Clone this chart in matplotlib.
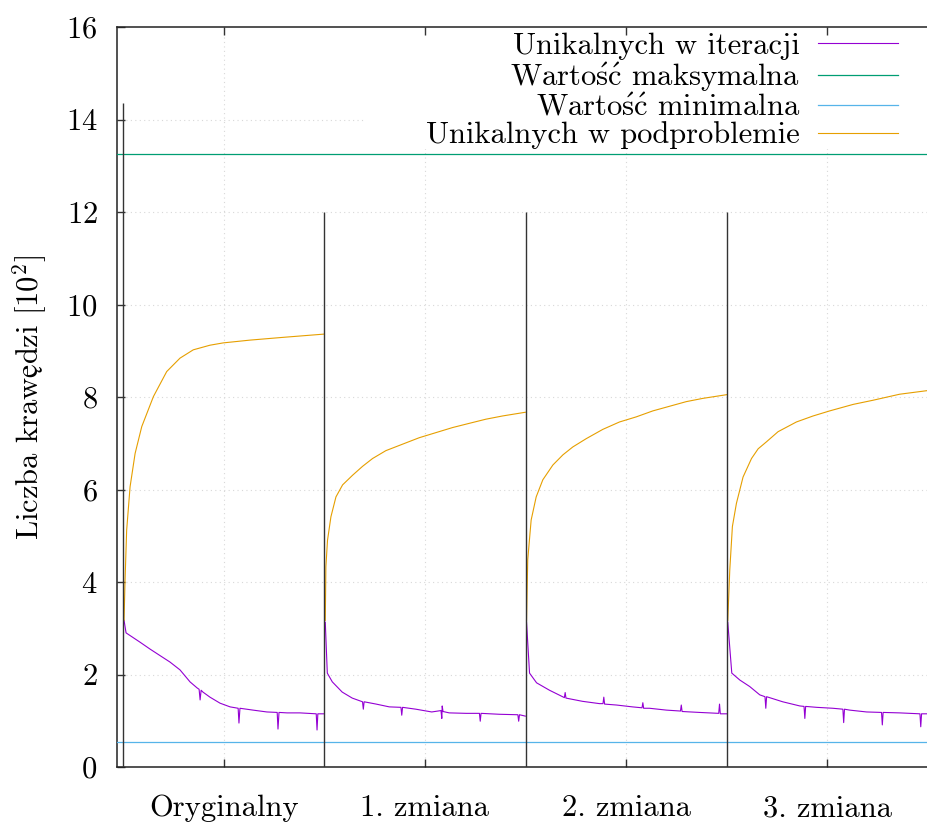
import matplotlib
matplotlib.use('Agg')
import matplotlib.pyplot as plt
from matplotlib.patches import Rectangle

plt.rcParams['font.family'] = ['cmr10']
plt.rcParams['mathtext.fontset'] = 'cm'
plt.rcParams['axes.formatter.use_mathtext'] = True

# x: fraction of the run inside each phase (0..1), y: edges in hundreds
segments = ['Oryginalny', '1. zmiana', '2. zmiana', '3. zmiana']
labels = ['Unikalnych w iteracji',
          r'Warto$\mathrm{\acute{s}\acute{c}}$ maksymalna',
          r'Warto$\mathrm{\acute{s}\acute{c}}$ minimalna',
          'Unikalnych w podproblemie']

# Unikalnych w iteracji (purple)
iter_x0 = [0.005, 0.015, 0.084, 0.134, 0.194, 0.233, 0.283, 0.333, 0.368, 0.378, 0.383, 0.388,
           0.397, 0.432, 0.482, 0.532, 0.572, 0.576, 0.581, 0.646, 0.715, 0.766, 0.770, 0.775,
           0.815, 0.879, 0.960, 0.964, 0.968, 0.999]
iter_y0 = [3.17, 2.90, 2.70, 2.55, 2.38, 2.27, 2.10, 1.84, 1.71, 1.68, 1.45, 1.66,
           1.62, 1.51, 1.38, 1.30, 1.27, 0.95, 1.27, 1.23, 1.19, 1.18, 0.82, 1.18,
           1.17, 1.17, 1.15, 0.80, 1.15, 1.15]
iter_x1 = [0.005, 0.015, 0.040, 0.089, 0.139, 0.190, 0.194, 0.198, 0.258, 0.323, 0.381, 0.385,
           0.389, 0.455, 0.534, 0.580, 0.584, 0.586, 0.590, 0.621, 0.705, 0.771, 0.775, 0.779,
           0.870, 0.962, 0.966, 0.970, 0.999]
iter_y1 = [3.13, 2.03, 1.84, 1.62, 1.49, 1.41, 1.25, 1.41, 1.36, 1.30, 1.29, 1.12,
           1.29, 1.25, 1.19, 1.22, 1.05, 1.32, 1.20, 1.17, 1.16, 1.16, 0.99, 1.16,
           1.14, 1.13, 0.99, 1.13, 1.10]
iter_x2 = [0.005, 0.020, 0.055, 0.119, 0.184, 0.193, 0.197, 0.201, 0.283, 0.368, 0.385, 0.389,
           0.393, 0.452, 0.531, 0.579, 0.583, 0.587, 0.616, 0.700, 0.770, 0.774, 0.778, 0.864,
           0.960, 0.964, 0.968, 0.999]
iter_y2 = [3.13, 2.03, 1.82, 1.66, 1.52, 1.50, 1.61, 1.49, 1.42, 1.37, 1.37, 1.51,
           1.36, 1.34, 1.30, 1.28, 1.39, 1.27, 1.27, 1.23, 1.21, 1.34, 1.20, 1.18,
           1.16, 1.36, 1.15, 1.15]
iter_x3 = [0.005, 0.025, 0.065, 0.114, 0.164, 0.190, 0.194, 0.198, 0.278, 0.363, 0.384, 0.388,
           0.392, 0.447, 0.527, 0.577, 0.581, 0.585, 0.611, 0.695, 0.769, 0.773, 0.777, 0.859,
           0.960, 0.964, 0.968, 1.000]
iter_y3 = [3.13, 2.03, 1.88, 1.74, 1.56, 1.52, 1.27, 1.52, 1.41, 1.32, 1.31, 1.05,
           1.31, 1.29, 1.27, 1.25, 0.96, 1.25, 1.23, 1.19, 1.18, 0.91, 1.18, 1.17,
           1.15, 0.87, 1.15, 1.15]

# Unikalnych w podproblemie (orange)
sub_x0 = [0.005, 0.010, 0.018, 0.035, 0.060, 0.093, 0.151, 0.217, 0.283, 0.349, 0.432, 0.498,
          0.631, 0.796, 0.999]
sub_y0 = [3.17, 4.04, 5.12, 6.06, 6.78, 7.36, 8.01, 8.55, 8.84, 9.02, 9.12, 9.17,
          9.23, 9.29, 9.36]
sub_x1 = [0.005, 0.008, 0.016, 0.033, 0.058, 0.091, 0.141, 0.190, 0.240, 0.306, 0.389, 0.472,
          0.555, 0.638, 0.720, 0.803, 0.886, 0.999]
sub_y1 = [3.17, 4.33, 4.90, 5.41, 5.84, 6.10, 6.31, 6.50, 6.67, 6.84, 6.98, 7.12,
          7.23, 7.34, 7.43, 7.52, 7.59, 7.67]
sub_x2 = [0.005, 0.011, 0.028, 0.053, 0.086, 0.136, 0.186, 0.235, 0.302, 0.384, 0.467, 0.550,
          0.633, 0.716, 0.799, 0.881, 0.999]
sub_y2 = [3.17, 4.48, 5.34, 5.84, 6.21, 6.53, 6.75, 6.92, 7.10, 7.30, 7.46, 7.57,
          7.70, 7.80, 7.90, 7.97, 8.05]
sub_x3 = [0.005, 0.015, 0.028, 0.048, 0.081, 0.123, 0.156, 0.197, 0.255, 0.346, 0.429, 0.512,
          0.628, 0.727, 0.859, 1.000]
sub_y3 = [3.17, 4.26, 5.20, 5.70, 6.27, 6.67, 6.88, 7.03, 7.25, 7.46, 7.59, 7.70,
          7.84, 7.93, 8.06, 8.14]

max_value = 13.25
min_value = 0.53
separator_heights = [14.36, 12.0, 12.0, 12.0]

iter_x = [iter_x0, iter_x1, iter_x2, iter_x3]
iter_y = [iter_y0, iter_y1, iter_y2, iter_y3]
sub_x = [sub_x0, sub_x1, sub_x2, sub_x3]
sub_y = [sub_y0, sub_y1, sub_y2, sub_y3]

purple = '#9400d3'
green = '#009e73'
blue = '#56b4e9'
orange = '#e69f00'
fs = 22

fig = plt.figure(figsize=(9.28, 8.23), dpi=100)
ax = fig.add_axes([117 / 928, 1 - 767 / 823, 1 - 117 / 928, (767 - 27) / 823])

for k in range(4):
    ax.plot([k + v for v in iter_x[k]], iter_y[k], color=purple, lw=0.8,
            label=labels[0] if k == 0 else None, zorder=3)
ax.axhline(max_value, color=green, lw=0.9, label=labels[1], zorder=3)
ax.axhline(min_value, color=blue, lw=0.9, label=labels[2], zorder=3)
for k in range(4):
    ax.plot([k + v for v in sub_x[k]], sub_y[k], color=orange, lw=0.8,
            label=labels[3] if k == 0 else None, zorder=3)

ax.vlines(range(4), 0, separator_heights, color='#333333', lw=1.0, zorder=4)

ax.set_xlim(-0.03, 4.0)
ax.set_ylim(0, 16)
ax.set_xticks([k + 0.5 for k in range(4)])
ax.set_xticklabels(segments)
ax.set_yticks(range(0, 17, 2))

# dotted grid drawn by hand so the key can blank it out without hiding ticks
for gx in ax.get_xticks():
    ax.axvline(gx, color='#d8d8d8', linestyle=(0, (1, 3)), lw=0.8, zorder=0.2)
for gy in ax.get_yticks()[1:-1]:
    ax.axhline(gy, color='#d8d8d8', linestyle=(0, (1, 3)), lw=0.8, zorder=0.2)
key_bg = Rectangle((366 / 928, 1 - 149 / 823), (928 - 366) / 928, (149 - 29) / 823,
                   transform=fig.transFigure, facecolor='white', edgecolor='none', zorder=0.3)
ax.add_artist(key_bg)
ax.set_axisbelow('line')

ax.spines['right'].set_visible(False)
for s in ['left', 'top', 'bottom']:
    ax.spines[s].set_color('#222222')
    ax.spines[s].set_linewidth(1.1)

ax.tick_params(axis='x', direction='in', length=6, width=1, top=True, bottom=True,
               labelsize=fs, pad=20, color='#333333')
ax.tick_params(axis='y', direction='in', length=6, width=1, left=True,
               labelsize=fs, pad=14, color='#333333')
ax.set_ylabel('Liczba kraw$\\mathrm{ę}$dzi [$10^2$]', fontsize=fs, labelpad=12)

leg = ax.legend(loc='upper right', bbox_to_anchor=(919 / 928, 1 - 11 / 823),
                bbox_transform=fig.transFigure, markerfirst=False, fontsize=fs,
                handlelength=2.6, handletextpad=0.6, labelspacing=0.0,
                borderpad=0.2, frameon=False)

fig.savefig('out.png', dpi=100)
